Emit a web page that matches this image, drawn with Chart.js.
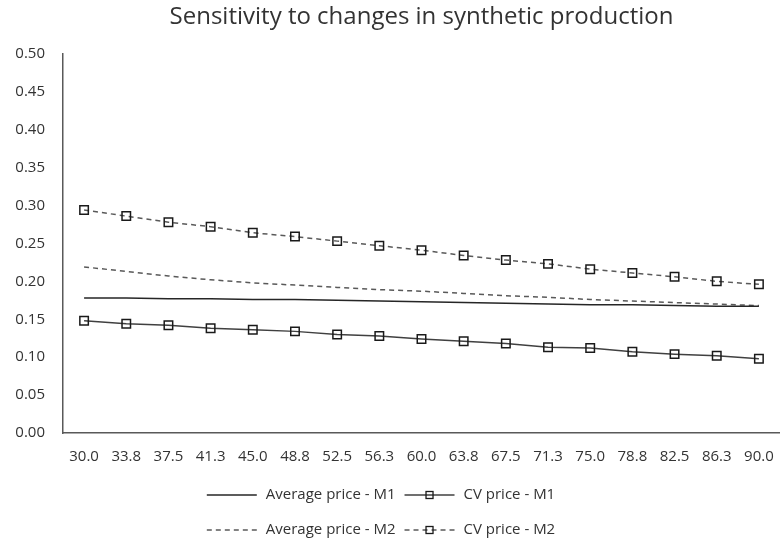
<!DOCTYPE html>
<html>
<head>
<meta charset="utf-8">
<script src="https://cdn.jsdelivr.net/npm/chart.js@4"></script>
<style>
  html, body { margin: 0; padding: 0; background: #fff; overflow: hidden; }
  #wrap { width: 780px; height: 542px; position: relative; }
</style>
</head>
<body>
<div id="wrap"><canvas id="chart"></canvas></div>
<script>
const labels = ['30.0', '33.8', '37.5', '41.3', '45.0', '48.8', '52.5', '56.3', '60.0', '63.8', '67.5', '71.3', '75.0', '78.8', '82.5', '86.3', '90.0'];
const avgPriceM1 = [0.178, 0.178, 0.177, 0.177, 0.176, 0.176, 0.175, 0.174, 0.173, 0.172, 0.171, 0.170, 0.169, 0.169, 0.168, 0.167, 0.167];
const cvPriceM1 = [0.148, 0.144, 0.142, 0.138, 0.136, 0.134, 0.130, 0.128, 0.124, 0.121, 0.118, 0.113, 0.112, 0.107, 0.104, 0.102, 0.098];
const avgPriceM2 = [0.219, 0.213, 0.207, 0.202, 0.198, 0.195, 0.192, 0.189, 0.187, 0.184, 0.181, 0.179, 0.176, 0.174, 0.172, 0.170, 0.168];
const cvPriceM2 = [0.294, 0.286, 0.278, 0.272, 0.264, 0.259, 0.253, 0.247, 0.241, 0.234, 0.228, 0.223, 0.216, 0.211, 0.206, 0.200, 0.196];

const textColor = '#333333';
const fontFamily = '"Open Sans", Lato, sans-serif';

// legend drawn 2x2 like the Excel one
const legendPlugin = {
  id: 'gridLegend',
  afterDraw(chart) {
    const ctx = chart.ctx;
    const sets = chart.data.datasets;
    const sample = 50, gap = 9, colGap = 9;
    ctx.save();
    ctx.font = '15px ' + fontFamily;
    const w = sets.map(d => ctx.measureText(d.label).width);
    const col1 = Math.max(w[0], w[2]);
    const col2 = Math.max(w[1], w[3]);
    const total = sample + gap + col1 + colGap + sample + gap + col2;
    const x0 = (chart.width - total) / 2 - 9;
    const rows = [495, 530];
    sets.forEach((d, i) => {
      const row = Math.floor(i / 2), col = i % 2;
      const x = col === 0 ? x0 : x0 + sample + gap + col1 + colGap;
      const y = rows[row];
      ctx.beginPath();
      ctx.setLineDash(d.borderDash || []);
      ctx.strokeStyle = d.borderColor;
      ctx.lineWidth = 1.3;
      ctx.moveTo(x, y);
      ctx.lineTo(x + sample, y);
      ctx.stroke();
      ctx.setLineDash([]);
      if (d.pointRadius > 0) {
        ctx.strokeStyle = d.pointBorderColor;
        ctx.lineWidth = 1.3;
        ctx.strokeRect(x + sample / 2 - 3.5, y - 3.5, 7, 7);
      }
      ctx.fillStyle = textColor;
      ctx.textBaseline = 'middle';
      ctx.textAlign = 'left';
      ctx.fillText(d.label, x + sample + gap, y);
    });
    ctx.restore();
  }
};

const common = {
  fill: false,
  tension: 0,
  borderWidth: 1.5,
  pointStyle: 'rect',
  pointBackgroundColor: 'rgba(0,0,0,0)',
  pointBorderColor: '#1a1a1a',
  pointBorderWidth: 1.5,
  pointHoverRadius: 6
};

new Chart(document.getElementById('chart'), {
  type: 'line',
  data: {
    labels: labels,
    datasets: [
      Object.assign({}, common, { label: 'Average price - M1', data: avgPriceM1, borderColor: '#262626', pointRadius: 0 }),
      Object.assign({}, common, { label: 'CV price - M1', data: cvPriceM1, borderColor: '#404040', pointRadius: 6 }),
      Object.assign({}, common, { label: 'Average price - M2', data: avgPriceM2, borderColor: '#595959', borderDash: [5, 4], pointRadius: 0 }),
      Object.assign({}, common, { label: 'CV price - M2', data: cvPriceM2, borderColor: '#595959', borderDash: [5, 4], pointRadius: 6 })
    ]
  },
  options: {
    responsive: true,
    maintainAspectRatio: false,
    animation: false,
    layout: { autoPadding: false, padding: { top: 0, right: 0, bottom: 74, left: 0 } },
    plugins: {
      legend: { display: false },
      tooltip: { enabled: false },
      title: {
        display: true,
        fullSize: false,
        text: 'Sensitivity to changes in synthetic production',
        color: textColor,
        font: { family: fontFamily, size: 24, weight: 'normal' },
        padding: { top: 3, bottom: 22 }
      }
    },
    scales: {
      x: {
        offset: true,
        grid: { display: false, drawTicks: false },
        border: { display: true, color: '#595959', width: 1.5 },
        ticks: { color: textColor, font: { family: fontFamily, size: 15 }, padding: 15, maxRotation: 0, autoSkip: false },
        afterFit: s => { s.height = 35; s.paddingLeft = 0; s.paddingRight = 0; }
      },
      y: {
        min: 0,
        max: 0.5,
        grid: { display: false, drawTicks: false },
        border: { display: true, color: '#595959', width: 1.5 },
        ticks: {
          stepSize: 0.05,
          color: textColor,
          font: { family: fontFamily, size: 15 },
          padding: 18,
          callback: v => Number(v).toFixed(2)
        },
        afterFit: s => { s.width = 63; }
      }
    }
  },
  plugins: [legendPlugin]
});
</script>
</body>
</html>
